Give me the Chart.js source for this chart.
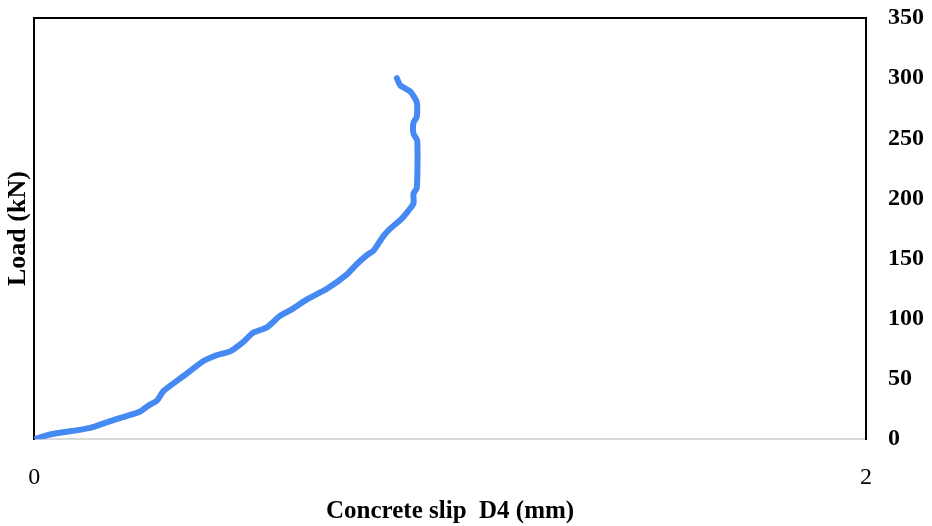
<!DOCTYPE html>
<html>
<head>
<meta charset="utf-8">
<script src="https://cdn.jsdelivr.net/npm/chart.js@4.4.1/dist/chart.umd.min.js"></script>
<style>
  html, body { margin: 0; padding: 0; background: #fff; }
  #wrap { width: 932px; height: 526px; position: relative; }
</style>
</head>
<body>
<div id="wrap"><canvas id="mycanvas"></canvas></div>
<script>
// slip D4 (mm) and load (kN)
const slipD4 = [0, 0.038, 0.135, 0.183, 0.22, 0.255, 0.275, 0.295, 0.311, 0.359, 0.407, 0.44, 0.471, 0.5, 0.527,
  0.559, 0.591, 0.615, 0.655, 0.704, 0.752, 0.776, 0.8, 0.816, 0.84, 0.856, 0.88, 0.9, 0.912, 0.912, 0.92,
  0.921, 0.912, 0.912, 0.92, 0.92, 0.904, 0.88, 0.872]
const loadKN = [0, 3.9, 9.4, 15, 19, 23, 28, 32, 40, 52.5, 65, 70, 73, 80, 88.6,
  92.8, 102.5, 107, 116, 125, 137, 145.6, 153, 156.7, 169, 175, 182, 190, 196, 204, 209,
  248, 254, 263, 268, 280, 289, 294, 300]
const xTicks = [0, 2]
const yTicks = [0, 50, 100, 150, 200, 250, 300, 350]

const points = slipD4.map((s, i) => ({ x: s, y: loadKN[i] }))
const serif = "'Liberation Serif', 'Times New Roman', serif"

// top edge of the plot frame
const topFrame = {
  id: 'topFrame',
  afterDraw(chart) {
    const a = chart.chartArea, c = chart.ctx
    c.save()
    c.strokeStyle = '#000'
    c.lineWidth = 2
    c.beginPath()
    c.moveTo(a.left - 1, a.top)
    c.lineTo(a.right + 1, a.top)
    c.stroke()
    c.restore()
  }
}

const ctx = document.getElementById('mycanvas').getContext('2d')
window.chart = new Chart(ctx, {
  type: 'scatter',
  data: {
    datasets: [{
      data: points,
      showLine: true,
      borderColor: '#4589f3',
      borderWidth: 6,
      borderCapStyle: 'round',
      borderJoinStyle: 'round',
      pointRadius: 0,
      tension: 0.2
    }]
  },
  options: {
    responsive: true,
    maintainAspectRatio: false,
    animation: false,
    layout: { padding: { top: 0, right: -14, left: 3, bottom: -1 } },
    plugins: { legend: { display: false }, tooltip: { enabled: false } },
    scales: {
      x: {
        type: 'linear', position: 'bottom', min: 0, max: 2,
        afterBuildTicks: axis => { axis.ticks = xTicks.map(v => ({ value: v })) },
        grid: { display: false, drawTicks: false },
        border: { display: true, color: '#d9d9d9', width: 2 },
        ticks: { padding: 24, maxRotation: 0, color: '#000', font: { family: serif, size: 24 } },
        title: { display: true, text: 'Concrete slip  D4 (mm)', color: '#000',
          font: { family: serif, size: 25, weight: 'bold' }, padding: { top: -19, bottom: 0 } }
      },
      y: {
        type: 'linear', position: 'right', min: 0, max: 350,
        afterBuildTicks: axis => { axis.ticks = yTicks.map(v => ({ value: v })) },
        afterFit: axis => { axis.paddingTop = 18; axis.paddingBottom = 0 },
        grid: { display: false, drawTicks: false },
        border: { display: true, color: '#000', width: 2 },
        ticks: { padding: 22, color: '#000', font: { family: serif, size: 24, weight: 'bold' } }
      },
      yLeft: {
        type: 'linear', position: 'left', min: 0, max: 350,
        grid: { display: false, drawTicks: false },
        border: { display: true, color: '#000', width: 2 },
        ticks: { display: false },
        title: { display: true, text: 'Load (kN)', color: '#000',
          font: { family: serif, size: 26, weight: 'bold' }, padding: { top: 0, bottom: 0 } }
      }
    }
  },
  plugins: [topFrame]
})
</script>
</body>
</html>
